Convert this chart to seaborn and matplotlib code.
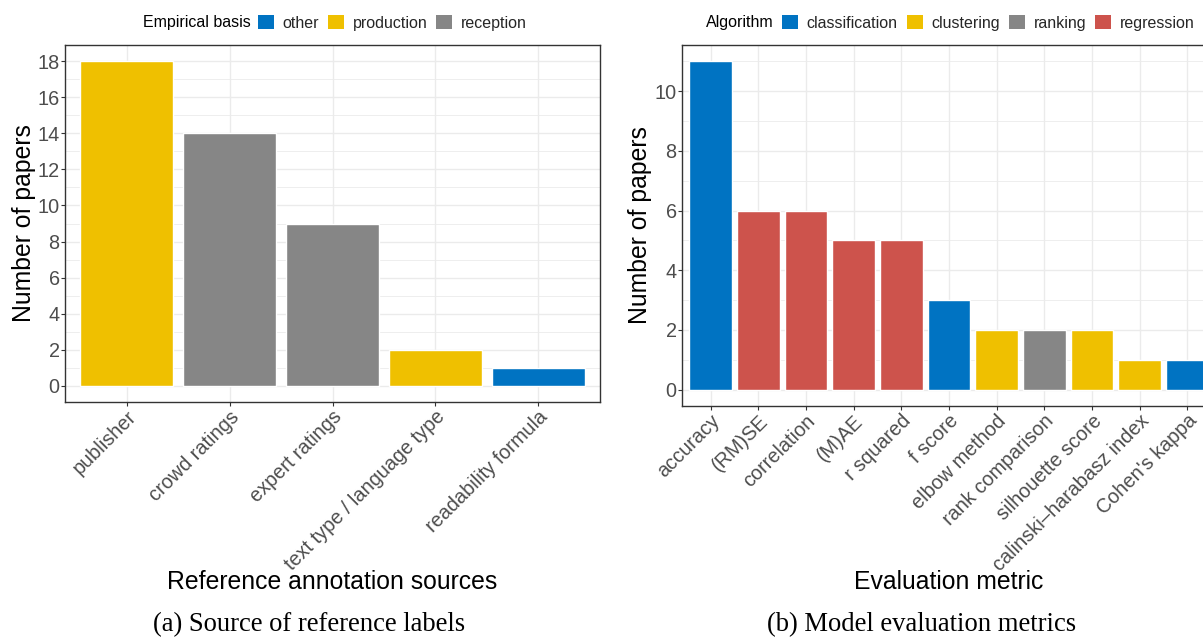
import matplotlib
matplotlib.use("Agg")
import matplotlib.pyplot as plt
from matplotlib.patches import Patch
from matplotlib.ticker import MultipleLocator
import pandas as pd
import seaborn as sns

# ---- data -------------------------------------------------------------
sources = ["publisher", "crowd ratings", "expert ratings",
           "text type / language type", "readability formula"]
source_counts = [18, 14, 9, 2, 1]
source_basis = ["production", "reception", "reception", "production", "other"]
basis_levels = ["other", "production", "reception"]

metrics = ["accuracy", "(RM)SE", "correlation", "(M)AE", "r squared",
           "f score", "elbow method", "rank comparison", "silhouette score",
           "calinski\u2013harabasz index", "Cohen's kappa"]
metric_counts = [11, 6, 6, 5, 5, 3, 2, 2, 2, 1, 1]
metric_algo = ["classification", "regression", "regression", "regression",
               "regression", "classification", "clustering", "ranking",
               "clustering", "clustering", "classification"]
algo_levels = ["classification", "clustering", "ranking", "regression"]

# ---- style ------------------------------------------------------------
sns.set_theme(style="white")
plt.rcParams["font.family"] = ["Liberation Sans", "DejaVu Sans"]

BLUE, YELLOW, GREY, RED = "#0073C2", "#EFC000", "#868686", "#CD534C"
basis_colors = {"other": BLUE, "production": YELLOW, "reception": GREY}
algo_colors = {"classification": BLUE, "clustering": YELLOW,
               "ranking": GREY, "regression": RED}

TITLE_SIZE = 17.8

W, H = 1203, 637
fig = plt.figure(figsize=(W / 100, H / 100), dpi=100)


def px_axes(x0, y0, x1, y1):
    return fig.add_axes([x0 / W, 1 - y1 / H, (x1 - x0) / W, (y1 - y0) / H])


def style_axes(ax, ymax, n):
    ax.set_xlim(-0.6, n - 1 + 0.6)
    ax.set_ylim(-0.05 * ymax, ymax * 1.05)
    ax.yaxis.set_major_locator(MultipleLocator(2))
    ax.yaxis.set_minor_locator(MultipleLocator(1))
    ax.set_axisbelow(True)
    ax.grid(True, which="major", color="#EBEBEB", lw=1.0)
    ax.grid(True, which="minor", axis="y", color="#EBEBEB", lw=0.6)
    for s in ax.spines.values():
        s.set_color("#333333")
        s.set_linewidth(1.0)
    ax.tick_params(axis="both", which="major", length=2.6, width=0.8,
                   color="#333333", labelcolor="#4D4D4D", labelsize=14.3,
                   pad=1.2, bottom=True, left=True)
    ax.tick_params(which="minor", length=0, left=False, bottom=False)
    for lab in ax.get_xticklabels():
        lab.set_rotation(45)
        lab.set_ha("right")
        lab.set_va("top")
        lab.set_rotation_mode("anchor")


def key_legend(levels, colors, title, title_right, key_left):
    handles = [Patch(facecolor=colors[l], edgecolor="none", label=l)
               for l in levels]
    fig.text(title_right / W, 1 - 23 / H, title, ha="right", va="center",
             fontsize=11.5, color="black")
    fig.legend(handles=handles, loc="center left",
               bbox_to_anchor=(key_left / W, 1 - 23 / H), ncol=len(levels),
               frameon=False, fontsize=11.5, handlelength=1.0,
               handleheight=1.0, handletextpad=0.55, columnspacing=0.55,
               borderpad=0, borderaxespad=0)


# ---- panel (a) --------------------------------------------------------
df_a = pd.DataFrame({"source": sources, "n": source_counts,
                     "basis": source_basis})
ax1 = px_axes(65, 45, 600, 402)
sns.barplot(data=df_a, x="source", y="n", hue="basis", order=sources,
            palette=basis_colors, width=0.9, dodge=False, saturation=1,
            legend=False, ax=ax1)
style_axes(ax1, 18, len(sources))
ax1.set_xlabel("Reference annotation sources", fontsize=TITLE_SIZE,
               color="black")
ax1.set_ylabel("Number of papers", fontsize=TITLE_SIZE, color="black")
ax1.xaxis.set_label_coords(0.5, -168 / 357)
ax1.yaxis.set_label_coords(-29 / 535, 0.5)
key_legend(basis_levels, basis_colors, "Empirical basis", 251, 258)

# ---- panel (b) --------------------------------------------------------
df_b = pd.DataFrame({"metric": metrics, "n": metric_counts,
                     "algo": metric_algo})
ax2 = px_axes(682, 45, 1216, 406)
sns.barplot(data=df_b, x="metric", y="n", hue="algo", order=metrics,
            palette=algo_colors, width=0.9, dodge=False, saturation=1,
            legend=False, ax=ax2)
style_axes(ax2, 11, len(metrics))
ax2.set_xlabel("Evaluation metric", fontsize=TITLE_SIZE, color="black")
ax2.set_ylabel("Number of papers", fontsize=TITLE_SIZE, color="black")
ax2.xaxis.set_label_coords(0.5, -164 / 361)
ax2.yaxis.set_label_coords(-30 / 534, 0.5)
key_legend(algo_levels, algo_colors, "Algorithm", 774, 782)

# ---- sub-captions -----------------------------------------------------
cap = dict(fontsize=19.2, family=["Liberation Serif", "DejaVu Serif"],
           ha="center", va="baseline", color="black")
fig.text(309 / W, 1 - 631 / H, "(a) Source of reference labels", **cap)
fig.text(922 / W, 1 - 631 / H, "(b) Model evaluation metrics", **cap)

fig.savefig("out.png", dpi=100, facecolor="white")
